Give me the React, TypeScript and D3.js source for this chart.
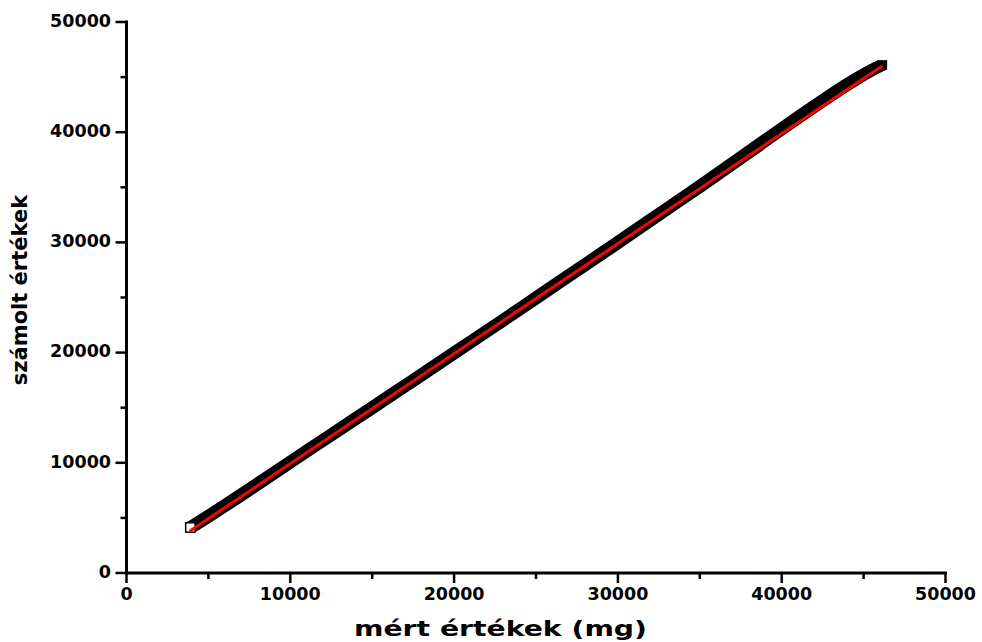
import React from "react";
import * as d3 from "d3";

// Measured (x) versus calculated (y) values, in mg
const measured = [3900, 5000, 7500, 10000, 12500, 15000, 17500, 20000, 22500, 25000, 27500, 30000, 32000, 34000, 36000, 38000, 40000, 42000, 43500, 44500, 45500, 46150];
const calculated = [4130, 5150, 7580, 10060, 12530, 15000, 17470, 19960, 22450, 24960, 27470, 29990, 32030, 34060, 36120, 38200, 40300, 42350, 43850, 44780, 45630, 46110];

// Linear fit y = slope * x + intercept, drawn over the measured range
const fitSlope = 0.9985;
const fitIntercept = -62;
const fitRange = [3850, 46140];

const xTicks = [0, 10000, 20000, 30000, 40000, 50000];
const yTicks = [0, 10000, 20000, 30000, 40000, 50000];
const minorTicks = [5000, 15000, 25000, 35000, 45000];

const xTitle = "mért értékek (mg)";
const yTitle = "számolt értékek";

const W = 982;
const H = 642;
const FONT = "'DejaVu Sans', sans-serif";

export default function App() {
  const x = d3.scaleLinear().domain([0, 50000]).range([126.5, 945.5]);
  const y = d3.scaleLinear().domain([0, 50000]).range([573, 22]);

  const pts = measured.map((m, i) => ({ x: m, y: calculated[i] }));
  const half = 4.7; // half side of the square marker, px

  // Band swept by the square markers along the data
  const band = d3
    .area<{ x: number; y: number }>()
    .x0((d) => x(d.x) - half)
    .y0((d) => y(d.y) - half)
    .x1((d) => x(d.x) + half)
    .y1((d) => y(d.y) + half)
    .curve(d3.curveMonotoneX)(pts);

  const fitLine = d3
    .line<number>()
    .x((v) => x(v))
    .y((v) => y(fitSlope * v + fitIntercept))(fitRange);

  const first = pts[0];
  const last = pts[pts.length - 1];

  return (
    <svg
      width={W}
      height={H}
      style={{ position: "absolute", left: 0, top: 0, background: "#fff" }}
    >
      {/* data band */}
      <path d={band ?? ""} fill="#000" />
      <rect
        x={x(last.x) - half}
        y={y(last.y) - half}
        width={half * 2}
        height={half * 2}
        fill="#000"
      />
      <rect
        x={x(first.x) - half}
        y={y(first.y) - half}
        width={half * 2}
        height={half * 2}
        fill="#fff"
        stroke="#000"
        strokeWidth={1.5}
      />
      {/* fit line */}
      <path d={fitLine ?? ""} fill="none" stroke="#ff0000" strokeWidth={3} />

      {/* axes */}
      <g stroke="#000" strokeWidth={3} strokeLinecap="square">
        <line x1={x(0)} x2={x(0)} y1={y(50000)} y2={y(0)} />
        <line x1={x(0)} x2={x(50000)} y1={y(0)} y2={y(0)} />
      </g>
      <g stroke="#000" strokeWidth={2.5}>
        {xTicks.map((t) => (
          <line key={"xt" + t} x1={x(t)} x2={x(t)} y1={y(0)} y2={y(0) + 10} />
        ))}
        {minorTicks.map((t) => (
          <line key={"xm" + t} x1={x(t)} x2={x(t)} y1={y(0)} y2={y(0) + 6} />
        ))}
        {yTicks.map((t) => (
          <line key={"yt" + t} x1={x(0) - 11} x2={x(0)} y1={y(t)} y2={y(t)} />
        ))}
        {minorTicks.map((t) => (
          <line key={"ym" + t} x1={x(0) - 6} x2={x(0)} y1={y(t)} y2={y(t)} />
        ))}
      </g>

      {/* tick labels */}
      <g fontFamily={FONT} fontWeight="bold" fontSize={17.5} fill="#000">
        {xTicks.map((t) => (
          <text key={"xl" + t} x={x(t)} y={599.5} textAnchor="middle">
            {t}
          </text>
        ))}
        {yTicks.map((t) => (
          <text key={"yl" + t} x={111} y={y(t) + 4.7} textAnchor="end">
            {t}
          </text>
        ))}
      </g>

      {/* axis titles */}
      <text
        x={354}
        y={636}
        textLength={293}
        lengthAdjust="spacingAndGlyphs"
        fontFamily={FONT}
        fontWeight="bold"
        fontSize={21}
      >
        {xTitle}
      </text>
      <text
        transform={`translate(27, 290) rotate(-90)`}
        textAnchor="middle"
        fontFamily={FONT}
        fontWeight="bold"
        fontSize={21}
      >
        {yTitle}
      </text>
    </svg>
  );
}
